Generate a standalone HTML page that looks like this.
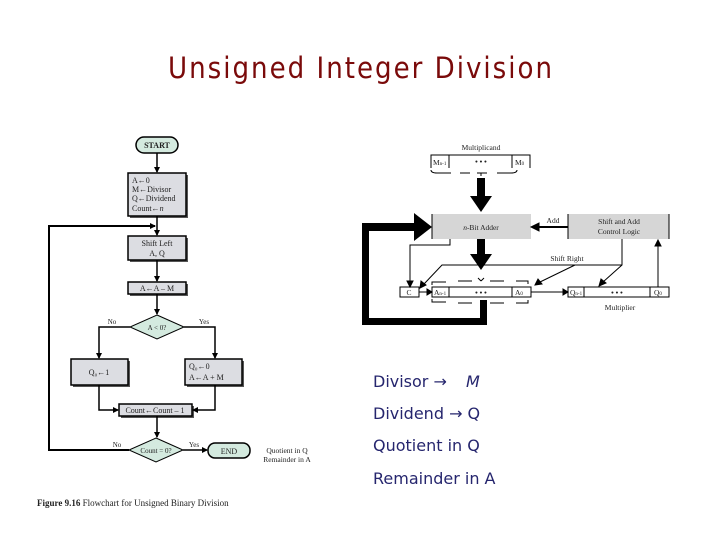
<!DOCTYPE html>
<html><head><meta charset="utf-8"><style>
html,body{margin:0;padding:0;background:#fff;}
svg{display:block;}
.s{font-family:"Liberation Serif",serif;fill:#222;}
.c{font-family:"DejaVu Sans","Liberation Sans",sans-serif;}
</style></head><body>
<svg width="720" height="540" viewBox="0 0 720 540" xmlns="http://www.w3.org/2000/svg">
<defs>
<marker id="ah" markerWidth="6" markerHeight="6" refX="5" refY="3" orient="auto" markerUnits="userSpaceOnUse"><path d="M0,0 L6,3 L0,6 z" fill="#000"/></marker>
</defs>
<text x="360" y="78" text-anchor="middle" class="c" font-size="29" fill="#7a0a0a" font-stretch="condensed" textLength="384">Unsigned Integer Division</text>

<!-- Flowchart -->
<g stroke="#000" fill="none">
<!-- shadows -->
<g fill="#555" stroke="none">
<rect x="130" y="175" width="58" height="43"/><rect x="130" y="238" width="58" height="24"/>
<rect x="130" y="284" width="58" height="12"/><rect x="73" y="361" width="57" height="26"/>
<rect x="187" y="361" width="57" height="26"/><rect x="121" y="406" width="73" height="12"/>
</g>
<rect x="136" y="137" width="42" height="16" rx="8" fill="#d4eadf" stroke-width="1.5"/>
<rect x="128" y="173" width="58" height="43" fill="#dcdde2" stroke-width="1.5"/>
<rect x="128" y="236" width="58" height="24" fill="#dcdde2" stroke-width="1.5"/>
<rect x="128" y="282" width="58" height="12" fill="#dcdde2" stroke-width="1.5"/>
<polygon points="157,315 184,327 157,339 130,327" fill="#d4eadf" stroke-width="1"/>
<rect x="71" y="359" width="57" height="26" fill="#dcdde2" stroke-width="1.5"/>
<rect x="185" y="359" width="57" height="26" fill="#dcdde2" stroke-width="1.5"/>
<rect x="119" y="404" width="73" height="12" fill="#dcdde2" stroke-width="1.5"/>
<polygon points="156,438 183,450 156,462 129,450" fill="#d4eadf" stroke-width="1"/>
<rect x="208" y="443" width="42" height="15" rx="7" fill="#d4eadf" stroke-width="1.5"/>
<g stroke-width="1.5" marker-end="url(#ah)">
<line x1="157" y1="153" x2="157" y2="172"/>
<line x1="157" y1="216" x2="157" y2="235"/>
<line x1="157" y1="260" x2="157" y2="281"/>
<line x1="157" y1="294" x2="157" y2="314"/>
<polyline points="130,327 99,327 99,358"/>
<polyline points="184,327 215,327 215,358"/>
<polyline points="99,385 99,410 118,410"/>
<polyline points="215,385 215,410 193,410"/>
<line x1="157" y1="416" x2="157" y2="437"/>
<line x1="183" y1="450" x2="207" y2="450"/>
</g>
<polyline points="129,450 49,450 49,226 155,226" stroke-width="2" marker-end="url(#ah)"/>
</g>
<g class="s" font-size="8">
<text x="157" y="148" text-anchor="middle" font-weight="bold">START</text>
<text x="132" y="183">A←0</text><text x="132" y="192">M←Divisor</text>
<text x="132" y="201">Q←Dividend</text><text x="132" y="211">Count←<tspan font-style="italic">n</tspan></text>
<text x="157" y="246" text-anchor="middle">Shift Left</text><text x="157" y="256" text-anchor="middle">A, Q</text>
<text x="157" y="291" text-anchor="middle">A←A – M</text>
<text x="157" y="330" text-anchor="middle" font-size="7">A &lt; 0?</text>
<text x="112" y="324" text-anchor="middle" font-size="7">No</text><text x="204" y="324" text-anchor="middle" font-size="7">Yes</text>
<text x="99" y="375" text-anchor="middle">Q₀←1</text>
<text x="189" y="369">Q₀←0</text><text x="189" y="380">A←A + M</text>
<text x="155" y="413" text-anchor="middle">Count←Count – 1</text>
<text x="156" y="453" text-anchor="middle" font-size="7">Count = 0?</text>
<text x="117" y="447" text-anchor="middle" font-size="7">No</text><text x="194" y="447" text-anchor="middle" font-size="7">Yes</text>
<text x="229" y="454" text-anchor="middle">END</text>
<text x="287" y="453" text-anchor="middle" font-size="7.5">Quotient in Q</text>
<text x="287" y="462" text-anchor="middle" font-size="7.5">Remainder in A</text>
<text x="37" y="506" font-size="9"><tspan font-weight="bold">Figure 9.16</tspan>  Flowchart for Unsigned Binary Division</text>
</g>

<!-- Right hardware diagram -->
<g stroke="#000" fill="none" stroke-width="1">
<!-- M register -->
<polyline points="431,168 431,155 530,155 530,168"/>
<line x1="449" y1="155" x2="449" y2="168"/><line x1="512" y1="155" x2="512" y2="168"/>
<path d="M431,170 q0,3 6,3 h14 M460,173 h10 M477,173 h10 M497,173 h14 q6,0 6,-3 M481,173 l0,3" stroke-dasharray="0"/>
<!-- adder/control -->
<rect x="432" y="214" width="99" height="25" fill="#d6d6d6" stroke="none"/>
<line x1="432" y1="214" x2="432" y2="239"/>
<rect x="568" y="214" width="101" height="25" fill="#d6d6d6" stroke="none"/>
<line x1="568" y1="214" x2="568" y2="239"/><line x1="669" y1="214" x2="669" y2="239"/>
<line x1="568" y1="227" x2="538" y2="227" stroke-width="2"/>
<path d="M531,227 l8,-4 v8 z" fill="#000"/>
<!-- registers -->
<rect x="400" y="287" width="19" height="10"/>
<rect x="432" y="287" width="99" height="10"/>
<line x1="449" y1="287" x2="449" y2="297"/><line x1="512" y1="287" x2="512" y2="297"/>
<rect x="568" y="287" width="101" height="10"/>
<line x1="584" y1="287" x2="584" y2="297"/><line x1="650" y1="287" x2="650" y2="297"/>
<!-- braces A -->
<path d="M432,285 v-3 h14 M458,281 h14 M490,281 h14 M516,281 h12 v3 M481,281 l-3,-3 M481,281 l3,-3"/>
<path d="M432,299 v3 h14 M458,303 h14 M490,303 h14 M516,303 h12 v-3 M481,303 l0,4"/>
<!-- carry line -->
<polyline points="450,239 450,245 410,245 410,283"/>
<path d="M410,287 l-3,-6 h6z" fill="#000"/>
<line x1="419" y1="292" x2="428" y2="292"/><path d="M432,292 l-5,-3 v6z" fill="#000"/>
<line x1="531" y1="292" x2="563" y2="292"/><path d="M568,292 l-5,-3 v6z" fill="#000"/>
<!-- shift right -->
<polyline points="622,265 442,265 424,284"/><path d="M420,288 l1,-7 l5,4z" fill="#000"/>
<line x1="575" y1="265" x2="540" y2="282"/><path d="M535,285 l3,-6 l4,5z" fill="#000"/>
<polyline points="622,239 622,265 603,282"/><path d="M599,286 l2,-7 l5,4z" fill="#000"/>
<line x1="658" y1="287" x2="658" y2="246"/><path d="M658,240 l-3,6 h6z" fill="#000"/>
</g>
<!-- big arrows -->
<g fill="#000">
<rect x="477" y="178" width="8" height="20"/><path d="M470,196 h22 l-11,16z"/>
<rect x="477" y="239" width="8" height="17"/><path d="M470,254 h22 l-11,16z"/>
<path d="M362,223 h52 v-10 l18,14 l-18,14 v-10 h-45 v87 h111 v-18 h7 v25 h-125 z"/>
</g>
<g class="s" font-size="7.5">
<text x="481" y="150" text-anchor="middle">Multiplicand</text>
<text x="433" y="165">M<tspan font-size="5">n-1</tspan></text>
<text x="481" y="164" text-anchor="middle" font-weight="bold">• • •</text>
<text x="515" y="165">M<tspan font-size="5">0</tspan></text>
<text x="481" y="230" text-anchor="middle"><tspan font-style="italic">n</tspan>-Bit Adder</text>
<text x="553" y="223" text-anchor="middle">Add</text>
<text x="619" y="224" text-anchor="middle">Shift and Add</text>
<text x="619" y="234" text-anchor="middle">Control Logic</text>
<text x="567" y="261" text-anchor="middle">Shift Right</text>
<text x="409" y="295" text-anchor="middle">C</text>
<text x="434" y="295">A<tspan font-size="5">n-1</tspan></text>
<text x="481" y="295" text-anchor="middle" font-weight="bold">• • •</text>
<text x="515" y="295">A<tspan font-size="5">0</tspan></text>
<text x="570" y="295">Q<tspan font-size="5">n-1</tspan></text>
<text x="617" y="295" text-anchor="middle" font-weight="bold">• • •</text>
<text x="654" y="295">Q<tspan font-size="5">0</tspan></text>
<text x="620" y="310" text-anchor="middle">Multiplier</text>
</g>

<g class="c" font-size="16" fill="#26266e">
<text x="373" y="387">Divisor → <tspan dx="14" font-style="italic">M</tspan></text>
<text x="373" y="419">Dividend → Q</text>
<text x="373" y="451">Quotient in  Q</text>
<text x="373" y="484">Remainder in A</text>
</g>
</svg>
</body></html>
